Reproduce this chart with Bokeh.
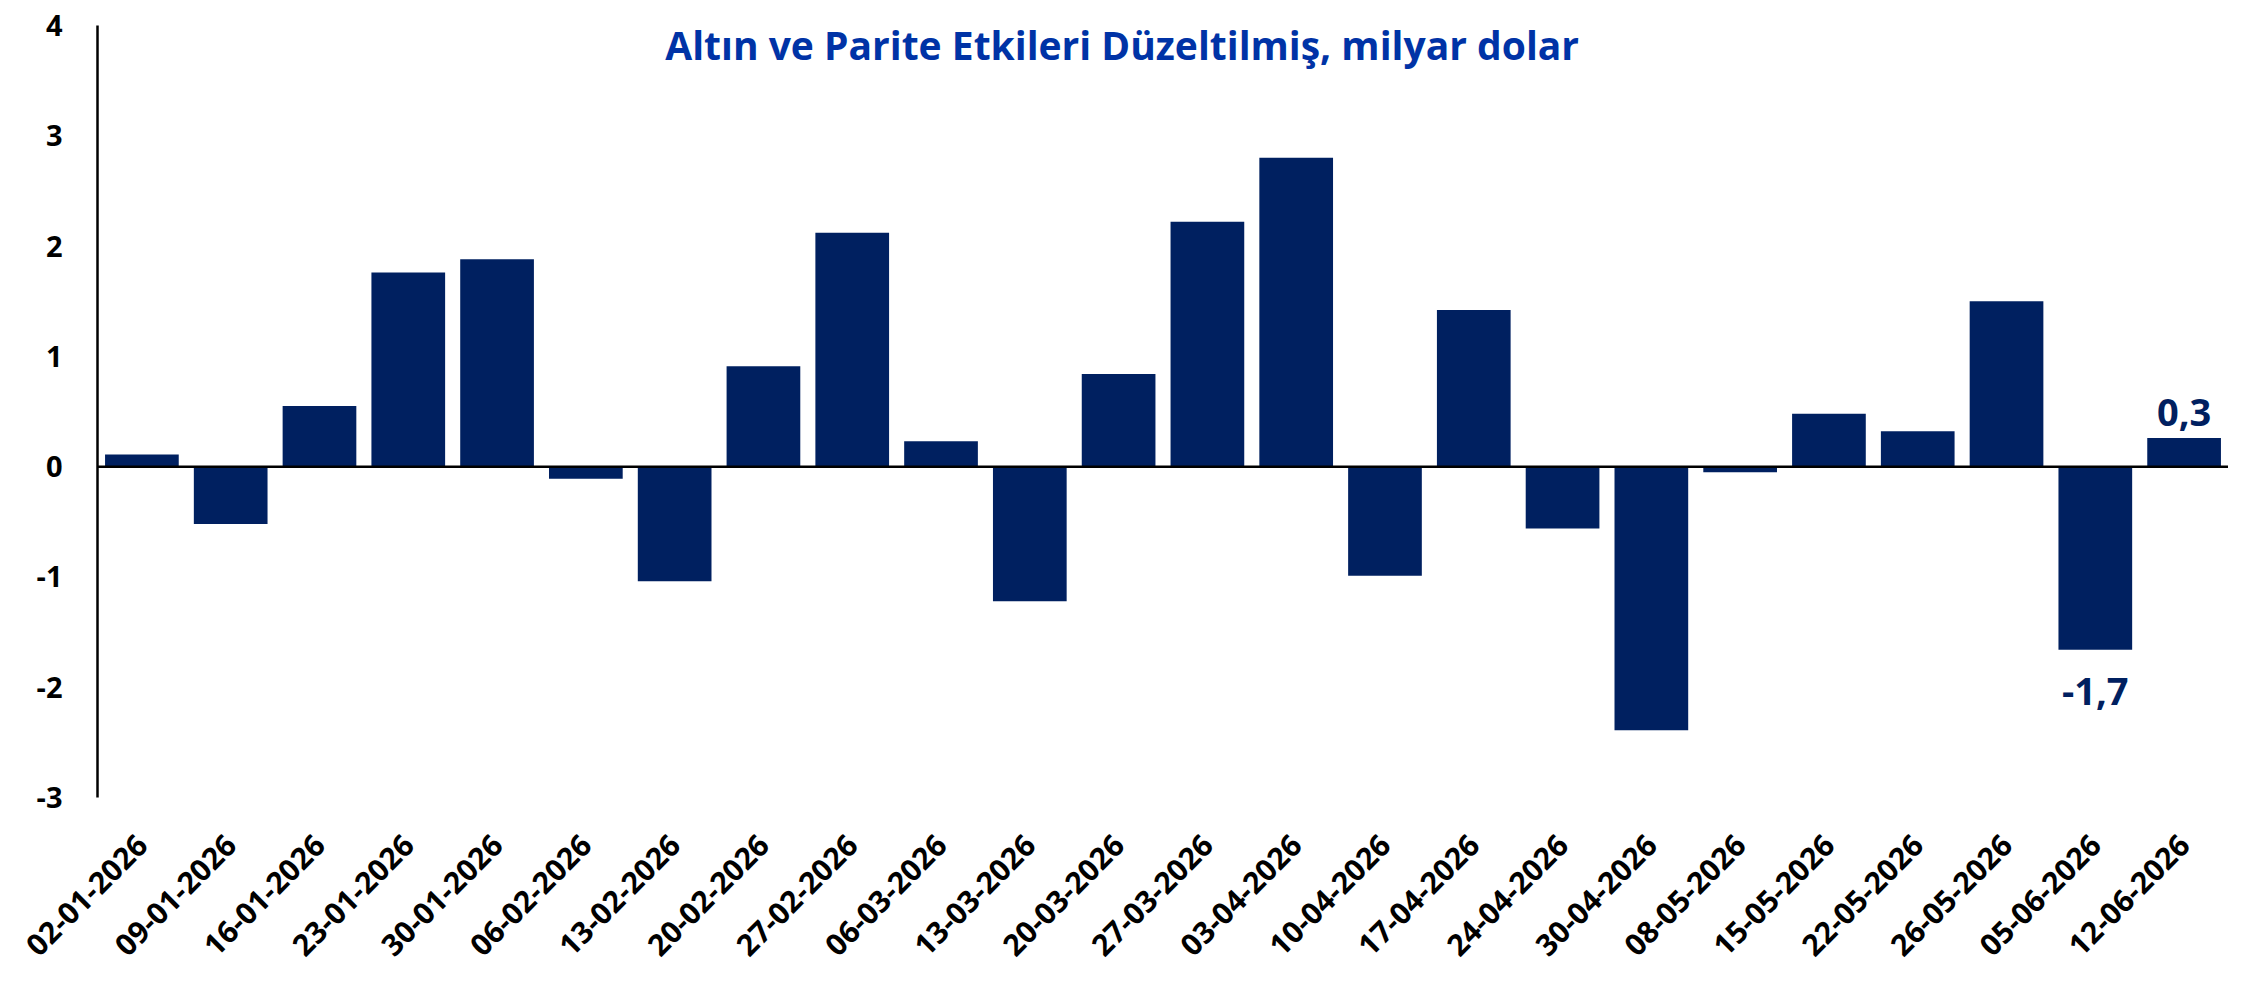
from bokeh.plotting import figure
from bokeh.models import Span, Label, FixedTicker, ColumnDataSource, Range1d
from bokeh.core.properties import value
from bokeh.embed import file_html
from bokeh.resources import INLINE
import math

dates = ["02-01-2026", "09-01-2026", "16-01-2026", "23-01-2026", "30-01-2026",
         "06-02-2026", "13-02-2026", "20-02-2026", "27-02-2026", "06-03-2026",
         "13-03-2026", "20-03-2026", "27-03-2026", "03-04-2026", "10-04-2026",
         "17-04-2026", "24-04-2026", "30-04-2026", "08-05-2026", "15-05-2026",
         "22-05-2026", "26-05-2026", "05-06-2026", "12-06-2026"]
values = [0.11, -0.52, 0.55, 1.76, 1.88, -0.11, -1.04, 0.91, 2.12, 0.23,
          -1.22, 0.84, 2.22, 2.80, -0.99, 1.42, -0.56, -2.39, -0.05, 0.48,
          0.32, 1.50, -1.66, 0.26]
y_ticks = [-3, -2, -1, 0, 1, 2, 3, 4]
title_text = "Altın ve Parite Etkileri Düzeltilmiş, milyar dolar"
labelled = ["05-06-2026", "12-06-2026"]

BAR = "#002060"
FONT = "Open Sans"

p = figure(x_range=dates, y_range=Range1d(-3, 4), width=2228, height=968,
           output_backend="svg", toolbar_location=None,
           min_border_left=97, min_border_right=0, min_border_top=25,
           min_border_bottom=156)
p.outline_line_color = None
p.xgrid.grid_line_color = None
p.ygrid.grid_line_color = None
p.background_fill_color = "white"

src = ColumnDataSource(dict(x=dates, top=values))
p.vbar(x="x", top="top", bottom=0, width=0.83, source=src,
       fill_color=BAR, line_color=None)

p.add_layout(Span(location=0, dimension="width", line_color="black", line_width=2.5))

# y axis
ya = p.yaxis[0]
ya.ticker = FixedTicker(ticks=y_ticks)
ya.major_label_overrides = {t: str(t) for t in y_ticks}
ya.axis_line_color = "black"
ya.axis_line_width = 2.5
ya.major_tick_line_color = None
ya.minor_tick_line_color = None
ya.major_tick_out = 0
ya.major_tick_in = 0
ya.major_label_standoff = 35
ya.major_label_text_font = FONT
ya.major_label_text_font_style = "bold"
ya.major_label_text_font_size = "29px"
ya.major_label_text_color = "black"

# x axis
xa = p.xaxis[0]
xa.axis_line_color = None
xa.major_tick_line_color = None
xa.minor_tick_line_color = None
xa.major_tick_out = 0
xa.major_tick_in = 0
xa.major_label_orientation = math.pi / 4
xa.major_label_standoff = 42
xa.major_label_text_font = FONT
xa.major_label_text_font_style = "bold"
xa.major_label_text_font_size = "30px"
xa.major_label_text_color = "black"

# data labels
lx, ly, lt, loff = [], [], [], []
for d in labelled:
    v = values[dates.index(d)]
    lx.append(d)
    ly.append(v)
    lt.append(f"{v:.1f}".replace(".", ","))
    loff.append(-25 if v >= 0 else 42)
lsrc = ColumnDataSource(dict(x=lx, y=ly, t=lt, off=loff))
p.text(x="x", y="y", text="t", y_offset="off", source=lsrc,
       text_align="center", text_baseline="alphabetic",
       text_font=value(FONT), text_font_style="bold",
       text_font_size="38px", text_color=BAR)

# title
p.add_layout(Label(x=11.54, y=3.83, text=title_text, text_align="center",
                   text_baseline="alphabetic", text_font=FONT,
                   text_font_style="bold", text_font_size="39px",
                   text_color="#0033A6"))

open("out.html", "w").write(file_html(p, INLINE))
